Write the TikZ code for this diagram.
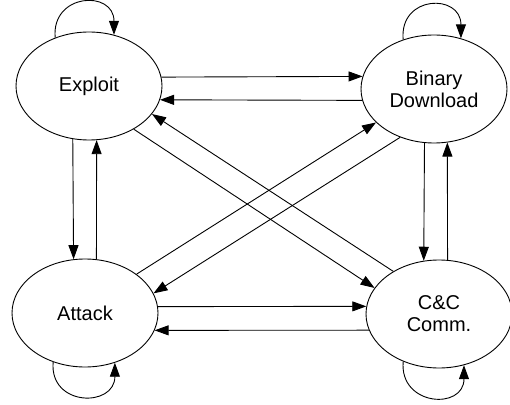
\documentclass[tikz,border=0pt]{standalone}
\usepackage{fontspec}
\setmainfont{Liberation Sans}
\usetikzlibrary{shapes.geometric, arrows.meta}
\tikzstyle{state} = [ellipse, minimum width=146pt, minimum height=108pt, inner sep=0pt, text centered, align=center, draw=black, line width=0.9pt, font=\fontsize{20}{22}\selectfont]
\tikzstyle{arrow} = [line width=0.9pt,-{Triangle[length=14pt,width=10pt]}]
\begin{document}
\begin{tikzpicture}[x=1pt,y=1pt,node distance=345pt]
\useasboundingbox (0,0) rectangle (510,404);

\node (exploit) [state] at (89,318) {Exploit};
\node (binary) [state, right of=exploit, yshift=-3pt] {Binary\\Download};
\node (attack) [state, below of=exploit, node distance=227pt, xshift=-4pt] {Attack};
\node (cc) [state, below of=binary, node distance=225pt, xshift=5pt] {C\&C\\Comm.};

\draw [arrow] (exploit.7) -- (binary.170);
\draw [arrow] (binary.-171) -- (exploit.-11);
\draw [arrow] (attack.5) -- (cc.174);
\draw [arrow] (cc.-167) -- (attack.-14);
\draw [arrow] (exploit.-107) -- (attack.102);
\draw [arrow] (attack.78) -- (exploit.-82);
\draw [arrow] (binary.-100) -- (cc.106);
\draw [arrow] (cc.81) -- (binary.-76);
\draw [arrow] (exploit.-44) -- (cc.158);
\draw [arrow] (cc.137) -- (exploit.-24);
\draw [arrow] (attack.37) -- (binary.-150);
\draw [arrow] (binary.-125) -- (attack.16);

\draw [arrow] (exploit.125) to[out=95,in=90,distance=45pt] (exploit.64);
\draw [arrow] (binary.122) to[out=95,in=90,distance=45pt] (binary.62);
\draw [arrow] (attack.-123) to[out=-95,in=-90,distance=45pt] (attack.-59);
\draw [arrow] (cc.-127) to[out=-95,in=-90,distance=45pt] (cc.-64);

\end{tikzpicture}
\end{document}
